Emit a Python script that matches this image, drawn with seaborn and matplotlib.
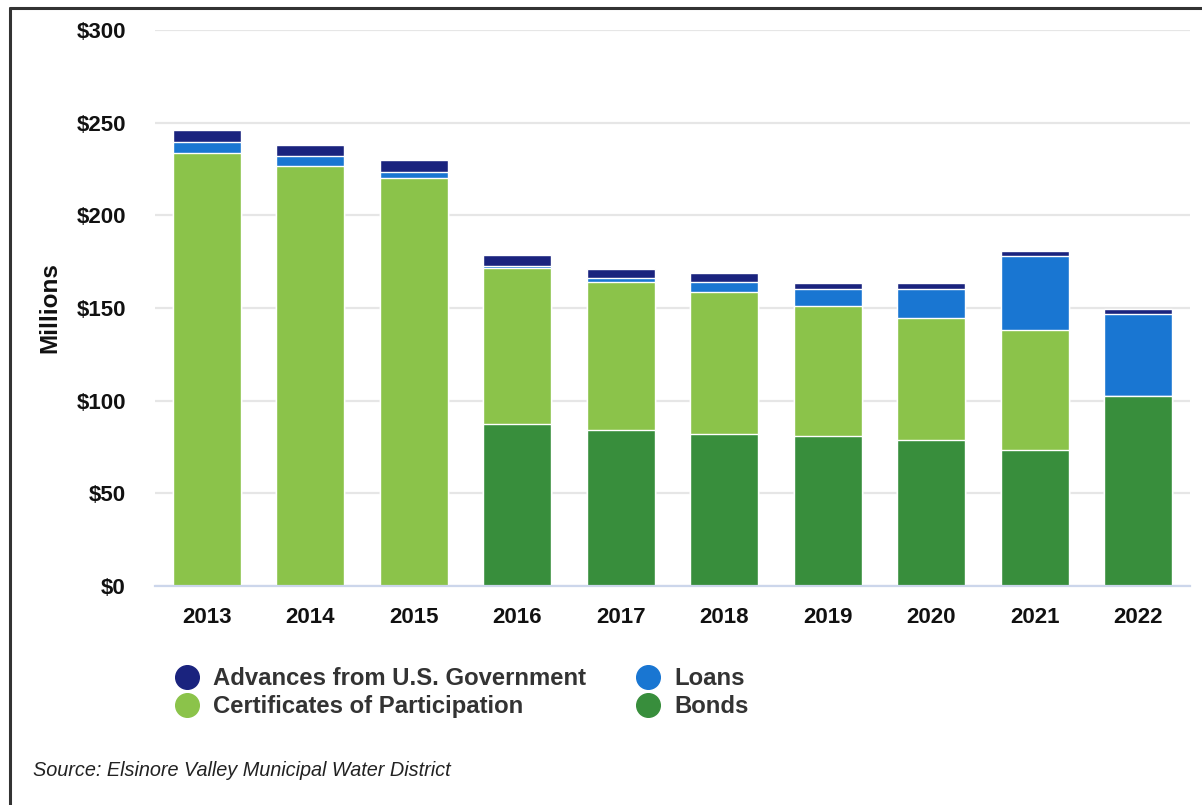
import matplotlib
matplotlib.use("Agg")
import matplotlib.pyplot as plt
from matplotlib.lines import Line2D
import numpy as np
import pandas as pd
import seaborn as sns

# Debt outstanding by type, millions of dollars
years = ["2013", "2014", "2015", "2016", "2017", "2018", "2019", "2020", "2021", "2022"]
bonds = [0, 0, 0, 87.6, 84.3, 82.1, 81.1, 78.8, 73.5, 102.7]
certificates = [233.5, 226.8, 220.3, 83.9, 79.9, 76.6, 70.2, 66.0, 64.8, 0]
loans = [6.3, 5.4, 3.3, 1.0, 2.2, 5.5, 8.9, 15.2, 39.9, 44.3]
advances = [6.0, 6.0, 6.0, 6.1, 4.7, 4.9, 3.5, 3.7, 2.8, 2.6]

y_ticks = [0, 50, 100, 150, 200, 250, 300]
y_tick_labels = ["$0", "$50", "$100", "$150", "$200", "$250", "$300"]

series_names = ["Bonds", "Certificates of Participation", "Loans", "Advances from U.S. Government"]
series_colors = {
    "Bonds": "#388e3c",
    "Certificates of Participation": "#8bc34a",
    "Loans": "#1976d2",
    "Advances from U.S. Government": "#1a237e",
}

df = pd.DataFrame({
    "year": years,
    "Bonds": bonds,
    "Certificates of Participation": certificates,
    "Loans": loans,
    "Advances from U.S. Government": advances,
})

sns.set_theme(style="white")
plt.rcParams["font.family"] = ["Liberation Sans", "DejaVu Sans"]

fig = plt.figure(figsize=(12.02, 8.05), dpi=100)
ax = fig.add_axes([155 / 1202, 1 - 586 / 805, (1190 - 155) / 1202, (586 - 30) / 805])

# Stacked bars: draw cumulative totals from the top layer down
cum = df[series_names].cumsum(axis=1)
for name in reversed(series_names):
    sns.barplot(x=df["year"], y=cum[name], color=series_colors[name], saturation=1,
                width=0.66, edgecolor="white", linewidth=1.0, ax=ax, zorder=2)

ax.set_ylim(0, 300)
ax.set_xlim(-0.5, len(years) - 0.5)
ax.set_yticks(y_ticks)
ax.set_yticklabels(y_tick_labels, fontsize=16, fontweight="bold", color="#111111")
ax.set_xticks(range(len(years)))
ax.set_xticklabels(years, fontsize=16, fontweight="bold", color="#111111")
ax.tick_params(axis="both", length=0)
ax.tick_params(axis="y", pad=21)
ax.tick_params(axis="x", pad=15)
ax.set_xlabel("")
ax.set_ylabel("Millions", fontsize=17.5, fontweight="bold", color="#111111", labelpad=11)

ax.grid(axis="y", color="#e6e6e6", linewidth=1.6, zorder=0)
ax.set_axisbelow(True)
for side in ["top", "right", "left"]:
    ax.spines[side].set_visible(False)
ax.spines["bottom"].set_color("#ccd6eb")
ax.spines["bottom"].set_linewidth(1.6)
ax.spines["bottom"].set_zorder(5)

# Legend in two columns
legend_order = ["Advances from U.S. Government", "Certificates of Participation", "Loans", "Bonds"]
handles = [Line2D([0], [0], marker="o", linestyle="none", markersize=17,
                  markerfacecolor=series_colors[n], markeredgecolor=series_colors[n])
           for n in legend_order]
leg = fig.legend(handles, legend_order, loc="upper left",
                 bbox_to_anchor=(175 / 1202, 1 - 667 / 805), ncol=2, frameon=False,
                 prop={"family": ["Liberation Sans", "DejaVu Sans"], "weight": "bold", "size": 17.2},
                 labelcolor="#333333", handlelength=1.0, handletextpad=0.6,
                 columnspacing=2.1, labelspacing=0.22, borderpad=0, borderaxespad=0)

fig.text(33 / 1202, 1 - 770 / 805, "Source: Elsinore Valley Municipal Water District",
         fontsize=14.3, fontstyle="italic", color="#222222", ha="left", va="center")

# Outer frame lines along the top and left edges
fig.add_artist(Line2D([10 / 1202, 1.0], [1 - 8.5 / 805, 1 - 8.5 / 805],
                      transform=fig.transFigure, color="#333333", linewidth=2.2))
fig.add_artist(Line2D([10.5 / 1202, 10.5 / 1202], [0, 1 - 8.5 / 805],
                      transform=fig.transFigure, color="#333333", linewidth=2.2))

fig.savefig("out.png", dpi=100, facecolor="white")
